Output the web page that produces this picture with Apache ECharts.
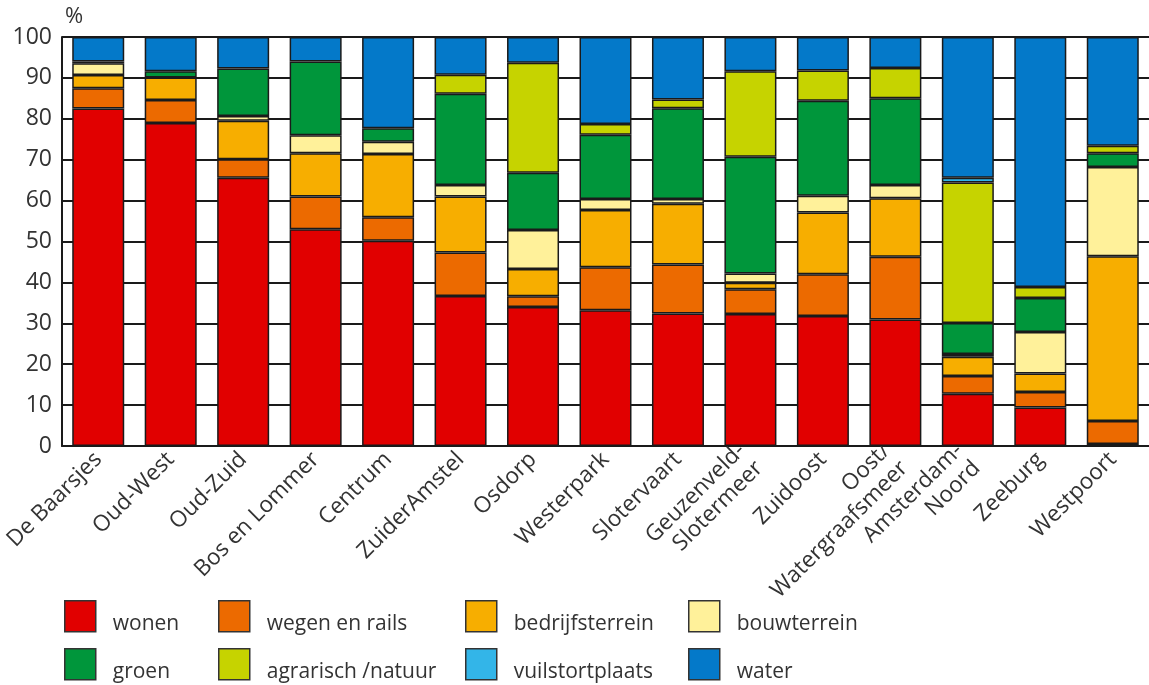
<!DOCTYPE html>
<html>
<head>
<meta charset="utf-8">
<script src="https://cdn.jsdelivr.net/npm/echarts@6/dist/echarts.min.js"></script>
<style>
html,body{margin:0;padding:0;background:#fff;}
#chart{width:1149px;height:685px;}
</style>
</head>
<body>
<div id="chart"></div>
<script>
const categories = ['De Baarsjes','Oud-West','Oud-Zuid','Bos en Lommer','Centrum','ZuiderAmstel','Osdorp','Westerpark','Slotervaart','Geuzenveld-\nSlotermeer','Zuidoost','Oost/\nWatergraafsmeer','Amsterdam-\nNoord','Zeeburg','Westpoort'];
const yTicks = [0,10,20,30,40,50,60,70,80,90,100];

const wonen          = [82.5, 79.0, 65.6, 53.0, 50.2, 36.7, 34.0, 33.2, 32.4, 32.3, 31.8, 30.9, 12.8,  9.4,  0.5];
const wegenEnRails   = [ 5.0,  5.6,  4.5,  8.0,  5.7, 10.6,  2.6, 10.5, 12.0,  6.0, 10.2, 15.4,  4.3,  3.8,  5.6];
const bedrijfsterrein= [ 3.2,  5.5,  9.4, 10.6, 15.5, 13.7,  6.7, 14.0, 14.8,  1.6, 15.1, 14.3,  4.7,  4.5, 40.3];
const bouwterrein    = [ 2.9,  0,    1.2,  4.4,  3.0,  2.8,  9.5,  2.7,  1.2,  2.3,  4.1,  3.2,  0.7, 10.2, 21.8];
const groen          = [ 0.4,  1.5, 11.6, 18.0,  3.3, 22.3, 14.0, 15.7, 22.2, 28.5, 23.2, 21.2,  7.6,  8.3,  3.4];
const agrarisch      = [ 0,    0,    0,    0,    0,    4.7, 26.9,  2.6,  2.1, 20.9,  7.4,  7.4, 34.3,  2.7,  1.8];
const vuilstort      = [ 0,    0,    0,    0,    0,    0,    0,    0,    0,    0,    0,    0,    1.2,  0,    0  ];
const water          = [ 6.0,  8.4,  7.7,  6.0, 22.3,  9.2,  6.3, 21.3, 15.3,  8.4,  8.2,  7.6, 34.4, 61.1, 26.6];

const seriesNames = ['wonen','wegen en rails','bedrijfsterrein','bouwterrein','groen','agrarisch /natuur','vuilstortplaats','water'];
const seriesValues = [wonen, wegenEnRails, bedrijfsterrein, bouwterrein, groen, agrarisch, vuilstort, water];
const seriesColors = ['#e10000','#ec6a00','#f7ae00','#fff19a','#00963b','#c6d300','#33b5e8','#0479c9'];

const FONT = 'Open Sans';
const TEXT = '#333333';

const series = seriesNames.map((name, i) => ({
  name: name,
  type: 'bar',
  stack: 'total',
  barWidth: 52,
  data: seriesValues[i].map(v => v === 0 ? '-' : v),
  itemStyle: { color: seriesColors[i], borderColor: '#1a1a1a', borderWidth: 1.5 },
  emphasis: { disabled: true }
}));

const legendCols = [64, 218, 465, 688];
const legendRows = [600, 648];
const legends = seriesNames.map((name, i) => ({
  data: [name],
  left: legendCols[i % 4],
  top: legendRows[Math.floor(i / 4)],
  itemWidth: 31,
  itemHeight: 31,
  icon: 'rect',
  selectedMode: false,
  padding: 0,
  itemStyle: { borderColor: '#333', borderWidth: 1.5 },
  formatter: '{a|{name}}',
  textStyle: {
    fontFamily: FONT, fontSize: 21, color: TEXT,
    rich: { a: { fontFamily: FONT, fontSize: 21, color: TEXT, padding: [16, 0, 0, 12] } }
  }
}));

const chart = echarts.init(document.getElementById('chart'), null, { renderer: 'canvas' });
chart.setOption({
  animation: false,
  backgroundColor: '#ffffff',
  legend: legends,
  grid: { left: 62, top: 37, width: 1096, height: 409, containLabel: false },
  xAxis: {
    type: 'category',
    data: categories,
    axisLine: { show: true, lineStyle: { color: '#1a1a1a', width: 2 } },
    axisTick: { show: false },
    axisLabel: {
      interval: 0, rotate: 45, margin: 10,
      fontFamily: FONT, fontSize: 22.5, color: TEXT, lineHeight: 25
    }
  },
  yAxis: {
    type: 'value',
    min: 0, max: 100, interval: 10,
    name: '%',
    nameLocation: 'end',
    nameGap: 9,
    nameTextStyle: { fontFamily: FONT, fontSize: 22, color: TEXT, align: 'left', padding: [0, 0, 0, 3] },
    axisLine: { show: true, lineStyle: { color: '#1a1a1a', width: 2 } },
    axisTick: { show: false },
    splitLine: { show: true, lineStyle: { color: '#1a1a1a', width: 2 } },
    axisLabel: {
      margin: 10, fontFamily: FONT, fontSize: 23, color: TEXT,
      formatter: v => yTicks.includes(v) ? String(v) : ''
    }
  },
  series: series
});
</script>
</body>
</html>
